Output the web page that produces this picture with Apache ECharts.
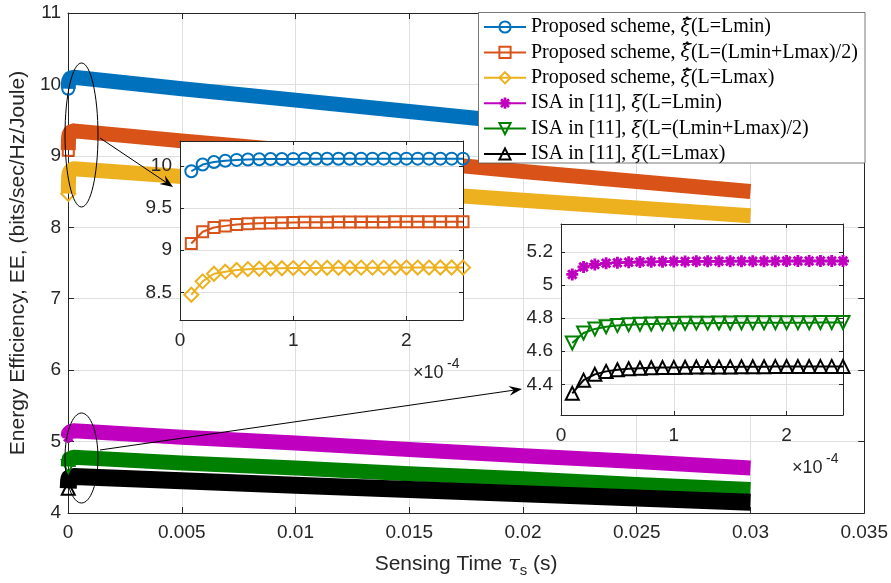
<!DOCTYPE html>
<html>
<head>
<meta charset="utf-8">
<script src="https://cdn.jsdelivr.net/npm/echarts@6/dist/echarts.min.js"></script>
</head>
<body style="margin:0">
<div id="main" style="width:891px;height:583px;"></div>
<script>
var names = [
    'Proposed scheme, ξ\u0302(L=Lmin)',
    'Proposed scheme, ξ\u0302(L=(Lmin+Lmax)/2)',
    'Proposed scheme, ξ\u0302(L=Lmax)',
    'ISA in [11], ξ(L=Lmin)',
    'ISA in [11], ξ(L=(Lmin+Lmax)/2)',
    'ISA in [11], ξ(L=Lmax)'
];
var colors = ['#0072BD', '#D95319', '#EDB120', '#BF00BF', '#008000', '#000000'];

// main plot, sensing time (s)
var mainX = [0.00001, 0.00002, 0.00003, 0.00005, 0.0001, 0.00025, 0.005, 0.01, 0.015, 0.02, 0.025, 0.03];
var mainBlue    = [9.94, 10.02, 10.05, 10.075, 10.09, 10.10, 9.94, 9.78, 9.62, 9.46, 9.30, 9.14];
var mainOrange  = [9.08, 9.22, 9.27, 9.30, 9.33, 9.35, 9.21, 9.07, 8.93, 8.78, 8.64, 8.50];
var mainYellow  = [8.47, 8.63, 8.72, 8.76, 8.79, 8.82, 8.71, 8.60, 8.49, 8.38, 8.27, 8.16];
var mainMagenta = [5.065, 5.11, 5.125, 5.135, 5.14, 5.15, 5.06, 4.98, 4.89, 4.80, 4.72, 4.63];
var mainGreen   = [4.65, 4.71, 4.735, 4.755, 4.77, 4.78, 4.70, 4.63, 4.55, 4.48, 4.40, 4.33];
var mainBlack   = [4.345, 4.425, 4.46, 4.49, 4.50, 4.51, 4.45, 4.39, 4.33, 4.27, 4.21, 4.15];

// zoomed insets, first 25 points
var insetX = [0.00001, 0.00002, 0.00003, 0.00004, 0.00005, 0.00006, 0.00007, 0.00008, 0.00009, 0.00010,
    0.00011, 0.00012, 0.00013, 0.00014, 0.00015, 0.00016, 0.00017, 0.00018, 0.00019, 0.00020,
    0.00021, 0.00022, 0.00023, 0.00024, 0.00025];
var inBlue = [9.94, 10.02, 10.05, 10.065, 10.075, 10.08, 10.083, 10.085, 10.086, 10.087, 10.088, 10.088, 10.089,
    10.089, 10.089, 10.09, 10.09, 10.09, 10.09, 10.09, 10.09, 10.09, 10.09, 10.09, 10.09];
var inOrange = [9.08, 9.22, 9.27, 9.29, 9.305, 9.315, 9.32, 9.325, 9.328, 9.33, 9.332, 9.333, 9.334,
    9.335, 9.336, 9.336, 9.337, 9.337, 9.338, 9.338, 9.338, 9.339, 9.339, 9.339, 9.34];
var inYellow = [8.47, 8.63, 8.72, 8.745, 8.765, 8.775, 8.78, 8.783, 8.786, 8.788, 8.79, 8.79, 8.791,
    8.792, 8.792, 8.793, 8.793, 8.793, 8.794, 8.794, 8.794, 8.794, 8.795, 8.795, 8.795];
var inMagenta = [5.065, 5.11, 5.125, 5.132, 5.136, 5.138, 5.14, 5.141, 5.142, 5.143, 5.143, 5.144, 5.144,
    5.144, 5.145, 5.145, 5.145, 5.145, 5.145, 5.146, 5.146, 5.146, 5.146, 5.146, 5.146];
var inGreen = [4.65, 4.71, 4.735, 4.748, 4.755, 4.76, 4.763, 4.765, 4.767, 4.768, 4.769, 4.77, 4.77,
    4.771, 4.771, 4.772, 4.772, 4.772, 4.773, 4.773, 4.773, 4.773, 4.774, 4.774, 4.774];
var inBlack = [4.345, 4.425, 4.46, 4.478, 4.488, 4.494, 4.497, 4.5, 4.501, 4.502, 4.503, 4.504, 4.505,
    4.505, 4.505, 4.506, 4.506, 4.506, 4.507, 4.507, 4.507, 4.507, 4.507, 4.508, 4.508];

var asterisk = 'path://M-1.2,-5L1.2,-5L1.2,5L-1.2,5ZM-5,-1.2L5,-1.2L5,1.2L-5,1.2Z' +
    'M2.69,-4.38L4.38,-2.69L-2.69,4.38L-4.38,2.69Z' +
    'M-4.38,-2.69L-2.69,-4.38L4.38,2.69L2.69,4.38Z';
var symbols = ['circle', 'rect', 'diamond', asterisk, 'triangle', 'triangle'];
var symSizes = [12, 11, 14, 12, 13, 13];
var symRot = [0, 0, 0, 0, 180, 0];

var axisColor = '#262626';
var gridColor = '#dfdfdf';
var sans = 'Liberation Sans, Arial, sans-serif';
var serif = 'Liberation Serif, Times New Roman, serif';

function itemStyleFor(i) {
    if (i === 3) return { color: colors[i], borderWidth: 0 };
    return { color: 'transparent', borderColor: colors[i], borderWidth: 2 };
}

function mainSeries(i, ys, width) {
    return {
        name: 'main' + i, type: 'line', xAxisIndex: 0, yAxisIndex: 0, z: 2,
        symbol: symbols[i], symbolSize: symSizes[i], symbolRotate: symRot[i],
        showAllSymbol: true,
        data: mainX.map(function (x, k) {
            return k === 0 ? { value: [x, ys[k]] } : { value: [x, ys[k]], symbol: 'none' };
        }),
        lineStyle: { color: colors[i], width: width, join: 'round' },
        itemStyle: itemStyleFor(i),
        emphasis: { disabled: true }
    };
}

function insetSeries(i, ys, ax) {
    return {
        name: names[i], type: 'line', xAxisIndex: ax, yAxisIndex: ax, z: 5,
        symbol: symbols[i], symbolSize: symSizes[i], symbolRotate: symRot[i],
        showAllSymbol: true,
        data: insetX.map(function (x, k) { return [x, ys[k]]; }),
        lineStyle: { color: colors[i], width: 2 },
        itemStyle: itemStyleFor(i),
        emphasis: { disabled: true }
    };
}

function valAxis(o) {
    var ax = {
        type: 'value', gridIndex: o.grid, position: o.pos, min: o.min, max: o.max,
        z: o.z || 0,
        axisLine: { show: true, onZero: false, lineStyle: { color: axisColor, width: 1 } },
        axisTick: { show: true, inside: true, length: o.tick, lineStyle: { color: axisColor } },
        axisLabel: {
            show: !!o.label, fontSize: 19, color: axisColor, fontFamily: sans, margin: o.margin || 8,
            showMinLabel: o.showMin, showMaxLabel: o.showMax, formatter: o.fmt
        },
        splitLine: { show: !!o.split, lineStyle: { color: gridColor, width: 1 } }
    };
    if (o.interval) ax.interval = o.interval;
    return ax;
}

var option = {
    animation: false,
    backgroundColor: '#fff',
    grid: [
        { left: 65, top: 13, width: 800, height: 501 },
        { left: 180, top: 141, width: 283, height: 179, show: true, backgroundColor: '#fff', borderWidth: 0, z: 3 },
        { left: 561, top: 224, width: 282, height: 191, show: true, backgroundColor: '#fff', borderWidth: 0, z: 3 }
    ],
    xAxis: [
        Object.assign(valAxis({ grid: 0, pos: 'bottom', min: 0, max: 0.035, interval: 0.005, tick: 6, label: true, split: true, margin: 10 }), {
            name: 'Sensing Time {t|τ}{s|s} (s)', nameLocation: 'middle', nameGap: 38,
            nameTextStyle: {
                fontSize: 21, color: axisColor, fontFamily: sans,
                rich: {
                    t: { fontSize: 21, fontStyle: 'italic', fontFamily: 'DejaVu Serif, serif', color: axisColor },
                    s: { fontSize: 15, color: axisColor, fontFamily: sans, padding: [12, 0, 0, 0] }
                }
            }
        }),
        valAxis({ grid: 0, pos: 'top', min: 0, max: 0.035, interval: 0.005, tick: 6 }),
        valAxis({ grid: 1, pos: 'bottom', min: 0, max: 0.00025, interval: 0.0001, tick: 4, label: true, split: true, z: 4,
            margin: 11, showMax: false, fmt: function (v) { return String(Math.round(v * 1e4)); } }),
        valAxis({ grid: 1, pos: 'top', min: 0, max: 0.00025, interval: 0.0001, tick: 4, z: 4 }),
        valAxis({ grid: 2, pos: 'bottom', min: 0, max: 0.00025, interval: 0.0001, tick: 4, label: true, split: true, z: 4,
            margin: 11, showMax: false, fmt: function (v) { return String(Math.round(v * 1e4)); } }),
        valAxis({ grid: 2, pos: 'top', min: 0, max: 0.00025, interval: 0.0001, tick: 4, z: 4 })
    ],
    yAxis: [
        Object.assign(valAxis({ grid: 0, pos: 'left', min: 4, max: 11, interval: 1, tick: 6, label: true, split: true, margin: 7 }), {
            name: 'Energy Efficiency, EE, (bits/sec/Hz/Joule)', nameLocation: 'middle', nameGap: 33,
            nameTextStyle: { fontSize: 21, color: axisColor, fontFamily: sans }
        }),
        valAxis({ grid: 0, pos: 'right', min: 4, max: 11, interval: 1, tick: 6 }),
        valAxis({ grid: 1, pos: 'left', min: 8.17, max: 10.3, tick: 4, label: true, split: true, z: 4,
            margin: 8, showMin: false, showMax: false }),
        valAxis({ grid: 1, pos: 'right', min: 8.17, max: 10.3, tick: 4, z: 4 }),
        valAxis({ grid: 2, pos: 'left', min: 4.214, max: 5.37, tick: 4, label: true, split: true, z: 4,
            margin: 8, showMin: false, showMax: false }),
        valAxis({ grid: 2, pos: 'right', min: 4.214, max: 5.37, tick: 4, z: 4 })
    ],
    legend: {
        data: names, orient: 'vertical', left: 478, top: 13,
        itemWidth: 42, itemHeight: 14, itemGap: 5.4, padding: [4, 8, 0, 5],
        backgroundColor: 'transparent', borderWidth: 0,
        selectedMode: false, z: 6,
        textStyle: {
            fontFamily: serif, fontSize: 20, color: '#000', lineHeight: 18,
            rich: { m: { fontFamily: 'DejaVu Serif, serif', fontSize: 19, fontStyle: 'italic', lineHeight: 18, color: '#000' } }
        },
        formatter: function (name) { return name.replace(/ξ\u0302?/, '{m|$&}'); }
    },
    series: [
        mainSeries(0, mainBlue, 15),
        mainSeries(1, mainOrange, 15),
        mainSeries(2, mainYellow, 15),
        mainSeries(3, mainMagenta, 15),
        mainSeries(4, mainGreen, 15),
        mainSeries(5, mainBlack, 17),
        insetSeries(0, inBlue, 2),
        insetSeries(1, inOrange, 2),
        insetSeries(2, inYellow, 2),
        insetSeries(3, inMagenta, 4),
        insetSeries(4, inGreen, 4),
        insetSeries(5, inBlack, 4)
    ]
};

function arrow(x1, y1, x2, y2) {
    var a = Math.atan2(y2 - y1, x2 - x1), L = 13, W = 5;
    var c = Math.cos(a), s = Math.sin(a);
    var bx = x2 - L * c, by = y2 - L * s;
    var nx = x2 - 0.65 * L * c, ny = y2 - 0.65 * L * s;
    return [
        { type: 'line', z: 10, shape: { x1: x1, y1: y1, x2: nx, y2: ny }, style: { stroke: '#000', lineWidth: 1 } },
        { type: 'polygon', z: 10, shape: { points: [[x2, y2], [bx - W * s, by + W * c], [nx, ny], [bx + W * s, by - W * c]] },
          style: { fill: '#000' } }
    ];
}

var g = [
    // legend box
    { type: 'rect', z: 5, shape: { x: 478.5, y: 12.5, width: 386.5, height: 150.5 }, style: { fill: '#fff', stroke: '#555', lineWidth: 0.8 } },
    { type: 'ellipse', z: 10, shape: { cx: 81.5, cy: 135, rx: 16.5, ry: 72 }, style: { fill: 'none', stroke: '#000', lineWidth: 1 } },
    { type: 'ellipse', z: 10, shape: { cx: 81.5, cy: 458, rx: 16.5, ry: 45 }, style: { fill: 'none', stroke: '#000', lineWidth: 1 } },
    { type: 'text', z: 10, x: 413, y: 373, style: { text: '×10', fontSize: 18, fontFamily: sans, fill: axisColor, verticalAlign: 'middle' } },
    { type: 'text', z: 10, x: 447, y: 364, style: { text: '-4', fontSize: 14, fontFamily: sans, fill: axisColor, verticalAlign: 'middle' } },
    { type: 'text', z: 10, x: 792, y: 468, style: { text: '×10', fontSize: 18, fontFamily: sans, fill: axisColor, verticalAlign: 'middle' } },
    { type: 'text', z: 10, x: 826, y: 459, style: { text: '-4', fontSize: 14, fontFamily: sans, fill: axisColor, verticalAlign: 'middle' } }
];
option.graphic = g.concat(arrow(100, 138, 173, 187), arrow(100, 450, 522, 389));

var myChart = echarts.init(document.getElementById('main'));
myChart.setOption(option);
</script>
</body>
</html>
